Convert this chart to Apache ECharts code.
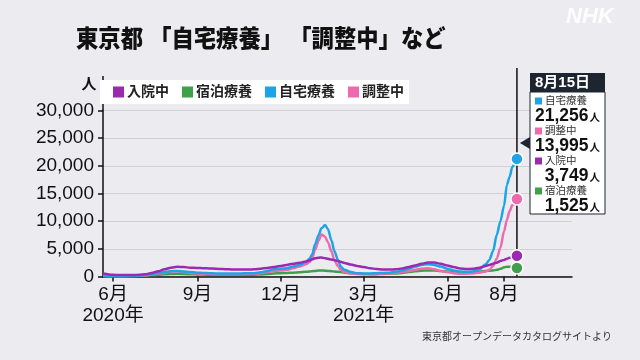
<!DOCTYPE html>
<html><head><meta charset="utf-8">
<script src="https://cdn.jsdelivr.net/npm/echarts@6/dist/echarts.min.js"></script>
<style>html,body{margin:0;padding:0;background:#ececf0}#c{width:640px;height:360px}</style>
</head><body><div id="c"></div>
<script>
// ---- data ----
const dates = ["2020-05-21","2020-06-01","2020-06-08","2020-06-15","2020-06-22","2020-06-29","2020-07-06","2020-07-13","2020-07-20","2020-07-27",
"2020-08-03","2020-08-10","2020-08-17","2020-08-24","2020-08-31","2020-09-07","2020-09-14","2020-09-21","2020-09-28","2020-10-05",
"2020-10-12","2020-10-19","2020-10-26","2020-11-02","2020-11-09","2020-11-16","2020-11-23","2020-11-30","2020-12-07","2020-12-14",
"2020-12-21","2020-12-28","2021-01-01","2021-01-04","2021-01-07","2021-01-11","2021-01-14","2021-01-18","2021-01-21","2021-01-25",
"2021-01-28","2021-02-01","2021-02-04","2021-02-08","2021-02-15","2021-02-22","2021-03-01","2021-03-08","2021-03-15","2021-03-22",
"2021-03-29","2021-04-05","2021-04-12","2021-04-19","2021-04-26","2021-05-03","2021-05-10","2021-05-17","2021-05-24","2021-05-31",
"2021-06-07","2021-06-14","2021-06-21","2021-06-28","2021-07-05","2021-07-12","2021-07-16","2021-07-20","2021-07-24","2021-07-28",
"2021-08-01","2021-08-04","2021-08-07","2021-08-10","2021-08-13","2021-08-15"];
// 入院中
const hospitalized = [550,300,250,250,280,300,400,650,950,1300,
1600,1750,1700,1600,1550,1500,1450,1400,1350,1300,
1250,1250,1250,1300,1400,1550,1700,1900,2100,2300,
2500,2700,2900,3100,3300,3400,3450,3300,3200,3050,
2950,2800,2650,2450,2150,1900,1700,1500,1350,1250,
1250,1300,1450,1700,2000,2300,2550,2550,2300,2000,
1700,1450,1350,1400,1600,1900,2100,2300,2500,2800,
3000,3200,3400,3500,3650,3749];
// 宿泊療養
const hotel = [150,100,80,80,100,120,180,250,330,400,
450,480,450,400,380,350,320,300,300,300,
300,300,310,330,380,450,550,600,650,700,
750,850,900,950,1000,1100,1100,1050,1000,950,
900,850,800,700,600,500,450,420,420,450,
500,550,650,800,950,1050,1100,1100,1000,900,
800,750,750,800,900,1000,1050,1100,1200,1400,
1650,1750,1750,1700,1650,1525];
// 自宅療養
const home = [150,80,60,80,120,180,300,450,600,800,
950,1000,900,800,700,650,600,550,550,550,
550,550,580,600,750,1000,1300,1400,1500,1800,
2100,2600,3200,4000,5800,7500,8700,9300,8600,6500,
4600,3000,1800,1200,800,600,550,550,600,650,
700,850,1100,1400,1800,2100,2200,2100,1800,1400,
1100,900,850,900,1300,2200,3000,4600,7500,10000,
12800,16500,18000,19800,20500,21256];
// 調整中
const adjusting = [100,50,50,60,80,120,200,350,500,700,
900,950,800,650,550,500,450,400,400,400,
400,420,450,500,600,800,1000,1100,1200,1500,
1800,2200,2600,3300,4800,6500,7600,7200,6200,4500,
3000,1900,1200,800,550,450,400,400,450,500,
550,650,800,1000,1200,1400,1500,1300,1000,800,
600,500,500,550,700,900,1200,1900,3200,5200,
8200,10200,11800,12900,13300,13995];

const seriesNames = ['入院中','宿泊療養','自宅療養','調整中'];
const seriesColors = ['#9a2bb0','#3f9f4b','#1ea4e6','#ee6aae'];
const xTickDates = ['2020-06-01','2020-09-01','2020-12-01','2021-03-01','2021-06-01','2021-08-01'];
const xTickLabels = ['6月\n2020年','9月','12月','3月\n2021年','6月','8月'];
const yMax = 30000, yStep = 5000;
const xRange = ['2020-05-21','2021-10-14'];
const titleText = '東京都 「自宅療養」 「調整中」など';
const unitText = '人';
const latestLabel = '8月15日';
const sourceText = '東京都オープンデータカタログサイトより';

// ---- build ----
const FONT = '"Liberation Sans","Noto Sans CJK JP",sans-serif';
const dayOf = s => { const p = s.split('-').map(Number); return Math.round(Date.UTC(p[0], p[1]-1, p[2]) / 86400000); };
const valuesByName = {'入院中': hospitalized, '宿泊療養': hotel, '自宅療養': home, '調整中': adjusting};
const colorByName = {}; seriesNames.forEach((n,i)=>colorByName[n]=seriesColors[i]);
const tickDays = xTickDates.map(dayOf);
const fmt = v => v.toLocaleString('en-US');

function makeSeries(name){
  const vals = valuesByName[name];
  const data = vals.map((v,i)=>{
    const item = {value:[dayOf(dates[i]), v]};
    if (i === vals.length-1) {
      item.symbol = 'circle'; item.symbolSize = 12;
      item.itemStyle = {color: colorByName[name], borderColor:'#fff', borderWidth:1.5};
    }
    return item;
  });
  return {
    name, type:'line', data, symbol:'none', showSymbol:true, smooth:0.3, smoothMonotone:'x',
    lineStyle:{width:2.5, color:colorByName[name]}, itemStyle:{color:colorByName[name]},
    emphasis:{disabled:true}, animation:false, z:3
  };
}
const drawOrder = ['宿泊療養','調整中','自宅療養','入院中'];

const option = {
  backgroundColor:'#ececf0',
  animation:false,
  textStyle:{fontFamily:FONT},
  legend:{
    data:seriesNames, left:100, top:80, icon:'rect', itemWidth:11, itemHeight:11, itemGap:13,
    backgroundColor:'#fff', padding:[5,5,5,13],
    textStyle:{fontSize:14, fontWeight:'bold', color:'#222', fontFamily:FONT, padding:[0,0,0,-2]}
  },
  grid:{left:103, right:68, top:110.5, bottom:83.5, containLabel:false},
  xAxis:{
    type:'value', min:dayOf(xRange[0]), max:dayOf(xRange[1]),
    axisLine:{lineStyle:{color:'#111', width:1.5}},
    axisTick:{show:true, customValues:tickDays, length:5, lineStyle:{color:'#111', width:1.5}},
    axisLabel:{customValues:tickDays, margin:8, fontSize:19, lineHeight:21, color:'#111', fontFamily:FONT,
      formatter:(v)=>{ const i = tickDays.indexOf(v); return i>=0 ? xTickLabels[i] : ''; }},
    splitLine:{show:false}
  },
  yAxis:{
    type:'value', min:0, max:yMax, interval:yStep,
    axisLine:{show:true, lineStyle:{color:'#111', width:1.5}},
    axisTick:{show:true, length:5, lineStyle:{color:'#111', width:1.5}},
    axisLabel:{formatter:fmt, fontSize:19, color:'#111', margin:9, fontFamily:FONT},
    splitLine:{lineStyle:{color:'#d0d0d5', width:1}}
  },
  series: drawOrder.map(makeSeries)
};

const chart = echarts.init(document.getElementById('c'));
chart.setOption(option);

const lastDay = dayOf(dates[dates.length-1]);
const lineX = chart.convertToPixel({xAxisIndex:0}, lastDay);
const axisY = chart.convertToPixel({yAxisIndex:0}, 0);
const topY = chart.convertToPixel({yAxisIndex:0}, yMax);
const axisX = chart.convertToPixel({xAxisIndex:0}, dayOf(xRange[0]));

const boxX = 530, boxW = 75, headY = 73, headH = 19, bodyH = 122;
const boxOrder = ['自宅療養','調整中','入院中','宿泊療養'];
const boxItems = [];
boxOrder.forEach((n,i)=>{
  const vals = valuesByName[n];
  const y0 = headY + headH + 9 + i*30;
  boxItems.push({type:'rect', z:101, shape:{x:boxX+5, y:y0-3.5, width:7, height:7}, style:{fill:colorByName[n]}});
  boxItems.push({type:'text', z:101, x:boxX+15, y:y0, style:{text:n, fontSize:10.5, fill:'#333', fontFamily:FONT, verticalAlign:'middle'}});
  boxItems.push({type:'text', z:101, x:boxX+boxW-5, y:y0+15, style:{
    text:'{v|'+fmt(vals[vals.length-1])+'}{u|'+unitText+'}', align:'right', verticalAlign:'middle',
    rich:{v:{fontSize:17.5, fontWeight:'bold', fill:'#111', fontFamily:FONT}, u:{fontSize:10.5, fontWeight:'bold', fill:'#111', fontFamily:FONT, padding:[5,0,0,1]}}
  }});
});

chart.setOption({graphic:[
  {type:'text', x:76, y:40, scaleX:0.93, style:{text:titleText, fontSize:24, fontWeight:900, fill:'#111', fontFamily:FONT, verticalAlign:'middle'}},
  {type:'line', z:1, shape:{x1:axisX, y1:76, x2:axisX, y2:topY}, style:{stroke:'#111', lineWidth:1.5}},
  {type:'text', x:89, y:85, style:{text:unitText, fontSize:15, fontWeight:'bold', fill:'#111', fontFamily:FONT, align:'center', verticalAlign:'middle'}},
  {type:'line', z:1, shape:{x1:lineX, y1:68, x2:lineX, y2:axisY}, style:{stroke:'#111', lineWidth:1.5}},
  {type:'polygon', z:100, shape:{points:[[lineX+3,143],[boxX,137],[boxX,149]]}, style:{fill:'#1d2630'}},
  {type:'rect', z:100, shape:{x:boxX, y:headY+headH, width:boxW, height:bodyH}, style:{fill:'#fff', stroke:'#1d2630', lineWidth:1}},
  {type:'rect', z:100, shape:{x:boxX, y:headY, width:boxW, height:headH}, style:{fill:'#1d2630'}},
  {type:'text', z:101, x:boxX+5, y:headY+headH/2+0.5, style:{text:latestLabel, fontSize:15, fontWeight:'bold', fill:'#fff', fontFamily:FONT, verticalAlign:'middle'}},
  ...boxItems,
  {type:'text', x:566, y:6, style:{text:'NHK', fontSize:22, fontStyle:'italic', fontWeight:'bold', fill:'rgba(255,255,255,0.9)', fontFamily:'"Liberation Sans",sans-serif'}},
  {type:'text', x:612, y:337, style:{text:sourceText, fontSize:10, fill:'#333', fontFamily:FONT, align:'right', verticalAlign:'middle'}}
]});
</script>
</body></html>
